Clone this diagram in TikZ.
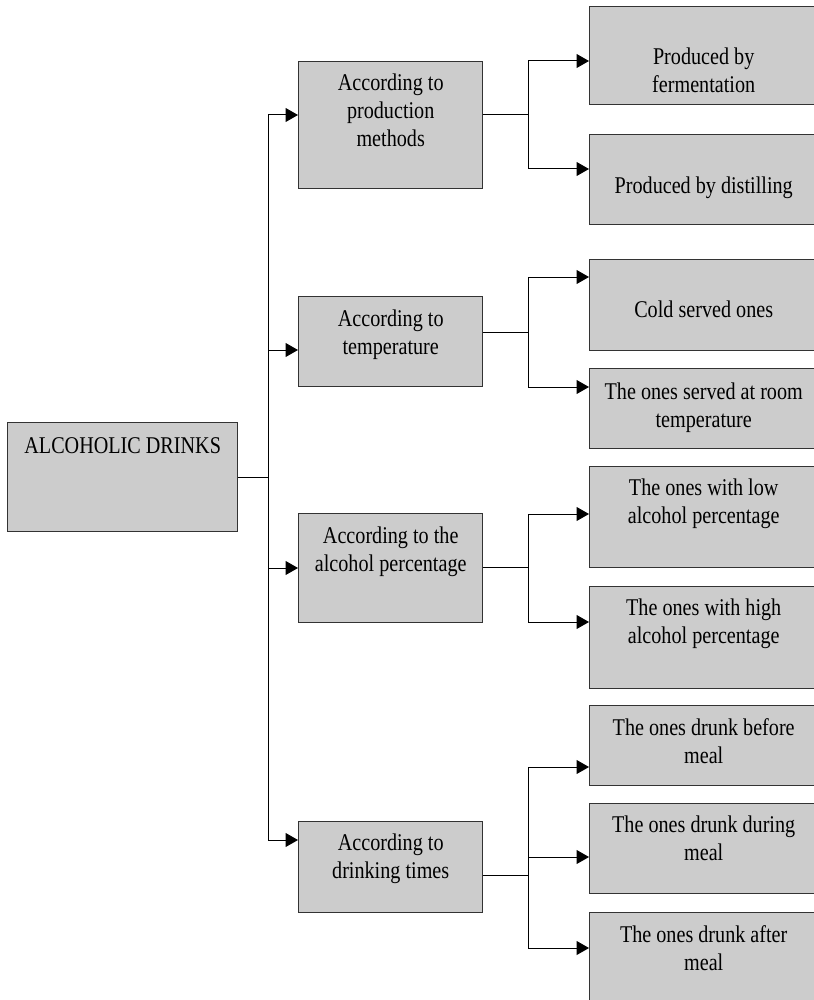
\documentclass[tikz,border=0pt]{standalone}
\usepackage{fontspec}
\setmainfont{Liberation Serif}[FakeStretch=0.84]
\usetikzlibrary{arrows.meta}
\definecolor{cellgray}{RGB}{204,204,204}
\definecolor{edgegray}{RGB}{51,51,51}
\newcommand{\cellfont}{\fontsize{24pt}{28pt}\selectfont}

\begin{document}
\begin{tikzpicture}[x=1pt, y=1pt,
  cell/.style={draw=edgegray, fill=cellgray, line width=1.4pt, inner sep=0pt, anchor=north west},
  txt/.style={anchor=north, align=center, inner sep=0pt, font=\cellfont, execute at begin node=\strut},
  link/.style={line width=1pt},
  arr/.style={link, -{Triangle[length=12.5pt, width=14pt]}},
]
  \useasboundingbox (0,0) rectangle (813,-1000);

  % root
  \node[cell, minimum width=230pt, minimum height=109pt] (root) at (7,-422) {};
  \node[txt] (root-t) at ([yshift=-11.5pt]root.north) {ALCOHOLIC DRINKS};

  % second level
  \node[cell, minimum width=184pt, minimum height=127pt] (prod) at (298,-61) {};
  \node[txt] (prod-t) at ([yshift=-13pt]prod.north) {According to\\production\\methods};
  \node[cell, minimum width=184pt, minimum height=90pt] (temp) at (298,-296) {};
  \node[txt] (temp-t) at ([yshift=-13.5pt]temp.north) {According to\\temperature};
  \node[cell, minimum width=184pt, minimum height=109pt] (alc) at (298,-513) {};
  \node[txt] (alc-t) at ([yshift=-13.5pt]alc.north) {According to the\\alcohol percentage};
  \node[cell, minimum width=184pt, minimum height=91pt] (time) at (298,-821) {};
  \node[txt] (time-t) at ([yshift=-13pt]time.north) {According to\\drinking times};

  % third level
  \node[cell, minimum width=228pt, minimum height=98pt] (ferm) at (589,-6) {};
  \node[txt] (ferm-t) at ([yshift=-41.5pt]ferm.north) {Produced by\\fermentation};
  \node[cell, minimum width=228pt, minimum height=90pt] (dist) at (589,-134) {};
  \node[txt] (dist-t) at ([yshift=-39.5pt]dist.north) {Produced by distilling};
  \node[cell, minimum width=228pt, minimum height=91pt] (cold) at (589,-259) {};
  \node[txt] (cold-t) at ([yshift=-38.5pt]cold.north) {Cold served ones};
  \node[cell, minimum width=228pt, minimum height=80pt] (room) at (589,-368) {};
  \node[txt] (room-t) at ([yshift=-14.5pt]room.north) {The ones served at room\\temperature};
  \node[cell, minimum width=228pt, minimum height=101pt] (low) at (589,-466) {};
  \node[txt] (low-t) at ([yshift=-13pt]low.north) {The ones with low\\alcohol percentage};
  \node[cell, minimum width=228pt, minimum height=102pt] (high) at (589,-586) {};
  \node[txt] (high-t) at ([yshift=-13pt]high.north) {The ones with high\\alcohol percentage};
  \node[cell, minimum width=228pt, minimum height=80pt] (before) at (589,-705) {};
  \node[txt] (before-t) at ([yshift=-13.5pt]before.north) {The ones drunk before\\meal};
  \node[cell, minimum width=228pt, minimum height=90pt] (during) at (589,-803) {};
  \node[txt] (during-t) at ([yshift=-12.5pt]during.north) {The ones drunk during\\meal};
  \node[cell, minimum width=228pt, minimum height=92pt] (after) at (589,-912) {};
  \node[txt] (after-t) at ([yshift=-13.5pt]after.north) {The ones drunk after\\meal};

  % trunk from the root
  \draw[link] ([yshift=-55pt]root.north east) -- ++(30,0) coordinate (trunk);
  \foreach \n/\d in {prod/54, temp/54, alc/55, time/19}
    \draw[arr] (trunk) |- ([yshift=-\d pt]\n.north west);

  % branches
  \draw[link] ([yshift=-54pt]prod.north east) -- ++(45,0) coordinate (prod-j);
  \foreach \n/\d in {ferm/55, dist/35}
    \draw[arr] (prod-j) |- ([yshift=-\d pt]\n.north west);
  \draw[link] ([yshift=-36pt]temp.north east) -- ++(45,0) coordinate (temp-j);
  \foreach \n/\d in {cold/18, room/19}
    \draw[arr] (temp-j) |- ([yshift=-\d pt]\n.north west);
  \draw[link] ([yshift=-54pt]alc.north east) -- ++(45,0) coordinate (alc-j);
  \foreach \n/\d in {low/48, high/36}
    \draw[arr] (alc-j) |- ([yshift=-\d pt]\n.north west);
  \draw[link] ([yshift=-54.5pt]time.north east) -- ++(45,0) coordinate (time-j);
  \foreach \n/\d in {before/62, during/54, after/36}
    \draw[arr] (time-j) |- ([yshift=-\d pt]\n.north west);
\end{tikzpicture}
\end{document}
